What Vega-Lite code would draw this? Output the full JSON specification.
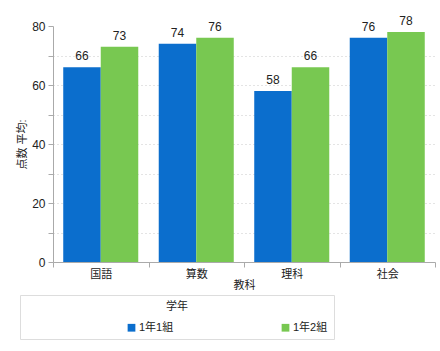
{
  "$schema": "https://vega.github.io/schema/vega-lite/v6.json",
  "autosize": {"type": "none"},
  "width": 382,
  "height": 236,
  "padding": {"left": 53, "top": 26, "right": 5, "bottom": 89},
  "background": "white",
  "config": {
    "font": "Liberation Sans, Noto Sans CJK JP, sans-serif",
    "view": {"stroke": null},
    "axis": {"labelFont": "Liberation Sans, Noto Sans CJK JP", "titleFont": "Liberation Sans, Noto Sans CJK JP"}
  },
  "data": {
    "values": [
      {"教科": "国語", "学年": "1年1組", "点数": 66},
      {"教科": "国語", "学年": "1年2組", "点数": 73},
      {"教科": "算数", "学年": "1年1組", "点数": 74},
      {"教科": "算数", "学年": "1年2組", "点数": 76},
      {"教科": "理科", "学年": "1年1組", "点数": 58},
      {"教科": "理科", "学年": "1年2組", "点数": 66},
      {"教科": "社会", "学年": "1年1組", "点数": 76},
      {"教科": "社会", "学年": "1年2組", "点数": 78}
    ]
  },
  "encoding": {
    "x": {
      "field": "教科", "type": "nominal", "sort": ["国語", "算数", "理科", "社会"],
      "scale": {"paddingInner": 0, "paddingOuter": 0},
      "axis": {
        "title": "教科", "titleFontSize": 11, "titleFontWeight": "normal", "titleColor": "#222",
        "titlePadding": 0, "labelAngle": 0, "labelFontSize": 11, "labelColor": "#222", "labelPadding": 1,
        "tickBand": "extent", "tickSize": 5, "tickColor": "#aaa", "domainColor": "#aaa", "grid": false
      }
    },
    "xOffset": {"field": "学年", "type": "nominal", "scale": {"paddingInner": 0, "paddingOuter": 0.273}},
    "y": {
      "field": "点数", "type": "quantitative",
      "scale": {"domain": [0, 80], "nice": false},
      "axis": {
        "title": "点数 平均:", "titleFontSize": 11, "titleFontWeight": "normal", "titleColor": "#222", "titlePadding": 4,
        "values": [0, 10, 20, 30, 40, 50, 60, 70, 80],
        "labelExpr": "datum.value % 20 == 0 ? datum.label : ''",
        "labelFontSize": 12, "labelColor": "#222", "labelPadding": 3,
        "tickSize": 5, "tickColor": "#aaa", "domainColor": "#aaa",
        "grid": true, "gridColor": "#c8c8c8", "gridDash": [1, 3],
        "gridOpacity": {"condition": {"test": "datum.value == 80 || datum.value == 0", "value": 0}, "value": 1}
      }
    }
  },
  "layer": [
    {
      "mark": {"type": "bar"},
      "encoding": {
        "color": {
          "field": "学年", "type": "nominal",
          "scale": {"domain": ["1年1組", "1年2組"], "range": ["#0b6ecd", "#78c851"]},
          "legend": {
            "orient": "none", "legendX": -33, "legendY": 269,
            "direction": "horizontal",
            "title": "学年", "titleAnchor": "middle", "titleOrient": "top",
            "titleFontSize": 11, "titleFontWeight": "normal", "titleColor": "#222", "titlePadding": 10,
            "labelFontSize": 11, "labelColor": "#222", "labelOffset": 2,
            "symbolType": "square", "symbolSize": 60, "symbolStrokeWidth": 0, "symbolOffset": 100,
            "columnPadding": 6, "padding": 6, "strokeColor": "#dddddd"
          }
        }
      }
    },
    {
      "mark": {"type": "text", "baseline": "bottom", "dy": -4, "fontSize": 12, "color": "#222"},
      "encoding": {"text": {"field": "点数", "type": "quantitative"}}
    }
  ]
}
